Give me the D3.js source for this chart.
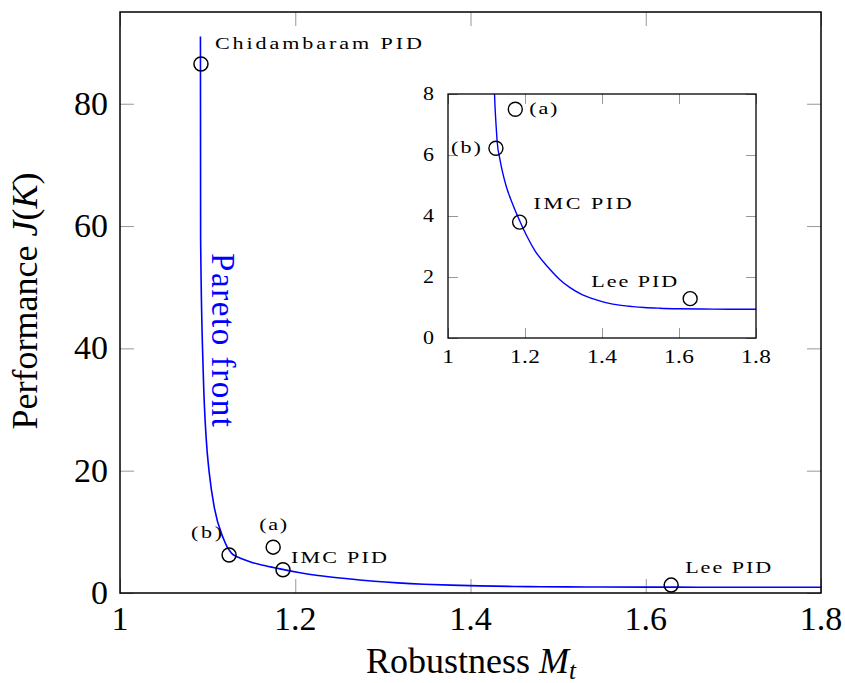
<!DOCTYPE html>
<html><head><meta charset="utf-8">
<script src="https://cdn.jsdelivr.net/npm/d3@7"></script>
<style>
body{margin:0;background:#fff;}
svg{display:block;}
text{font-family:"Liberation Serif","Times New Roman",serif;fill:#000;}
</style></head>
<body>
<svg id="chart" width="845" height="683"></svg>
<script>
// ---- data ----
const paretoX = [1.0918,1.0920,1.0950,1.0985,1.1019,1.1076,1.1180,1.1221,1.1250,1.1280,1.1350,1.1420,1.1506,1.1660,1.1827,1.2040,1.2260,1.2600,1.2900,1.3170,1.3470,1.3775,1.4100,1.4500,1.4800,1.5100,1.5500,1.6000,1.6600,1.7300,1.8000];
const paretoY = [91,58,36,25,19.6,14,8.9,7.6,6.95,6.4,5.85,5.42,5.0,4.45,3.94,3.36,2.86,2.32,1.92,1.65,1.43,1.28,1.16,1.07,1.03,1.0,0.977,0.96,0.95,0.945,0.943];
const pointNames = ["Chidambaram PID","(b)","(a)","IMC PID","Lee PID"];
const pointX = [1.0924,1.1245,1.1748,1.186,1.629];
const pointY = [86.5,6.22,7.5,3.8,1.29];
const xTicks = [1,1.2,1.4,1.6,1.8];
const yTicks = [0,20,40,60,80];
const insetYTicks = [0,2,4,6,8];
const xDomain = [1,1.8];
const yDomain = [0,95];
const insetYDomain = [0,8];

// ---- layout / style ----
const svg = d3.select("#chart");
const M = {l:120,r:821,t:12,b:593};
const I = {l:448,r:756,t:94,b:338};
const blue = "#0000ff";
const tickColor = "#8c8c8c";

const x = d3.scaleLinear().domain(xDomain).range([M.l,M.r]);
const y = d3.scaleLinear().domain(yDomain).range([M.b,M.t]);
const xi = d3.scaleLinear().domain(xDomain).range([I.l,I.r]);
const yi = d3.scaleLinear().domain(insetYDomain).range([I.b,I.t]);

const curve = paretoX.map((v,i)=>[v,paretoY[i]]);
const pts = pointX.map((v,i)=>({name:pointNames[i],x:v,y:pointY[i]}));

const defs = svg.append("defs");
defs.append("clipPath").attr("id","clipMain").append("rect")
  .attr("x",M.l).attr("y",M.t).attr("width",M.r-M.l).attr("height",M.b-M.t);
defs.append("clipPath").attr("id","clipInset").append("rect")
  .attr("x",I.l).attr("y",I.t).attr("width",I.r-I.l).attr("height",I.b-I.t);

function ticks(g, scale, axisFn, vals, size){
  const a = axisFn(scale).tickValues(vals).tickSize(-size).tickFormat("");
  g.call(a);
  g.select(".domain").remove();
  g.selectAll(".tick line").attr("stroke",tickColor).attr("stroke-width",0.9);
  g.selectAll(".tick text").remove();
}

// stretch small annotation text horizontally to mimic wide small-size CM glyphs
function fitText(sel, getPos, getLen){
  sel.each(function(d){
    const t = d3.select(this);
    const w = this.getComputedTextLength();
    const len = getLen(d);
    const s = Math.min(1.3, len / w);
    const p = getPos(d);
    t.attr("transform",`translate(${p[0]},${p[1]}) scale(${s},1)`);
    if (len / s > w + 0.5) t.attr("textLength", len / s).attr("lengthAdjust","spacing");
  });
}

// main ticks
const gm = svg.append("g");
ticks(gm.append("g").attr("transform",`translate(0,${M.b})`), x, d3.axisBottom, xTicks, 14);
ticks(gm.append("g").attr("transform",`translate(0,${M.t})`), x, d3.axisTop, xTicks, 14);
ticks(gm.append("g").attr("transform",`translate(${M.l},0)`), y, d3.axisLeft, yTicks, 14);
ticks(gm.append("g").attr("transform",`translate(${M.r},0)`), y, d3.axisRight, yTicks, 14);

// main tick labels
svg.append("g").selectAll("text").data(xTicks).join("text")
  .attr("x",d=>x(d)).attr("y",630).attr("text-anchor","middle")
  .attr("font-size",34).text(d=>d3.format("~g")(d));
svg.append("g").selectAll("text").data(yTicks).join("text")
  .attr("x",M.l-12).attr("y",d=>y(d)+11).attr("text-anchor","end")
  .attr("font-size",34).text(d=>d);

// main curve
const line = d3.line().x(d=>x(d[0])).y(d=>y(d[1])).curve(d3.curveMonotoneX);
svg.append("path").datum(curve).attr("d",line).attr("clip-path","url(#clipMain)")
  .attr("fill","none").attr("stroke",blue).attr("stroke-width",1.6);

// main frame
svg.append("rect").attr("x",M.l).attr("y",M.t).attr("width",M.r-M.l).attr("height",M.b-M.t)
  .attr("fill","none").attr("stroke","#000").attr("stroke-width",1.5);

// main markers
svg.append("g").selectAll("circle").data(pts).join("circle")
  .attr("cx",d=>x(d.x)).attr("cy",d=>y(d.y)).attr("r",7)
  .attr("fill","none").attr("stroke","#000").attr("stroke-width",1.5);

// main annotations (screen offsets, widths)
const mainLab = {
  "Chidambaram PID":{dx:14,dy:-15,anchor:"start",len:207},
  "(b)":{dx:-7,dy:-17,anchor:"end",len:31},
  "(a)":{dx:0,dy:-17,anchor:"middle",len:28},
  "IMC PID":{dx:8,dy:-7,anchor:"start",len:96},
  "Lee PID":{dx:14,dy:-12,anchor:"start",len:86}
};
svg.append("g").selectAll("text").data(pts).join("text")
  .attr("text-anchor",d=>mainLab[d.name].anchor)
  .attr("font-size",17)
  .text(d=>d.name)
  .call(fitText, d=>[x(d.x)+mainLab[d.name].dx, y(d.y)+mainLab[d.name].dy], d=>mainLab[d.name].len);

// Pareto front label
svg.append("text").attr("transform",`translate(212,253) rotate(90)`)
  .attr("font-size",33).style("fill",blue)
  .attr("textLength",174).attr("lengthAdjust","spacing").text("Pareto front");

// axis labels
const xl = svg.append("text").attr("x",471).attr("y",673).attr("text-anchor","middle").attr("font-size",36);
xl.append("tspan").text("Robustness ");
xl.append("tspan").attr("font-style","italic").text("M");
xl.append("tspan").attr("font-style","italic").attr("font-size",25).attr("dy",6).text("t");

const yl = svg.append("text").attr("transform",`translate(37,301) rotate(-90)`).attr("text-anchor","middle").attr("font-size",36);
yl.append("tspan").text("Performance ");
yl.append("tspan").attr("font-style","italic").text("J");
yl.append("tspan").text("(");
yl.append("tspan").attr("font-style","italic").text("K");
yl.append("tspan").text(")");

// ---- inset ----
svg.append("rect").attr("x",I.l).attr("y",I.t).attr("width",I.r-I.l).attr("height",I.b-I.t).attr("fill","#fff");
const gi = svg.append("g");
ticks(gi.append("g").attr("transform",`translate(0,${I.b})`), xi, d3.axisBottom, xTicks, 10);
ticks(gi.append("g").attr("transform",`translate(0,${I.t})`), xi, d3.axisTop, xTicks, 10);
ticks(gi.append("g").attr("transform",`translate(${I.l},0)`), yi, d3.axisLeft, insetYTicks, 10);
ticks(gi.append("g").attr("transform",`translate(${I.r},0)`), yi, d3.axisRight, insetYTicks, 10);

svg.append("g").selectAll("text").data(xTicks).join("text")
  .attr("text-anchor","middle")
  .attr("font-size",18).text(d=>d3.format("~g")(d))
  .call(fitText, d=>[xi(d),363], d=>30);
svg.append("g").selectAll("text").data(insetYTicks).join("text")
  .attr("text-anchor","end")
  .attr("font-size",18).text(d=>d)
  .call(fitText, d=>[I.l-14, yi(d)+6], d=>11);

const linei = d3.line().x(d=>xi(d[0])).y(d=>yi(d[1])).curve(d3.curveMonotoneX);
svg.append("path").datum(curve).attr("d",linei).attr("clip-path","url(#clipInset)")
  .attr("fill","none").attr("stroke",blue).attr("stroke-width",1.4);

svg.append("rect").attr("x",I.l).attr("y",I.t).attr("width",I.r-I.l).attr("height",I.b-I.t)
  .attr("fill","none").attr("stroke","#000").attr("stroke-width",1.3);

const insetPts = pts.filter(d=>d.y<=insetYDomain[1]);
svg.append("g").selectAll("circle").data(insetPts).join("circle")
  .attr("cx",d=>xi(d.x)).attr("cy",d=>yi(d.y)).attr("r",7)
  .attr("fill","none").attr("stroke","#000").attr("stroke-width",1.4);

const insetLab = {
  "(a)":{dx:14,dy:5,anchor:"start",len:28},
  "(b)":{dx:-15,dy:5,anchor:"end",len:30},
  "IMC PID":{dx:14,dy:-13,anchor:"start",len:98},
  "Lee PID":{dx:-13,dy:-12,anchor:"end",len:86}
};
svg.append("g").selectAll("text").data(insetPts).join("text")
  .attr("text-anchor",d=>insetLab[d.name].anchor)
  .attr("font-size",17)
  .text(d=>d.name)
  .call(fitText, d=>[xi(d.x)+insetLab[d.name].dx, yi(d.y)+insetLab[d.name].dy], d=>insetLab[d.name].len);
</script>
</body></html>
